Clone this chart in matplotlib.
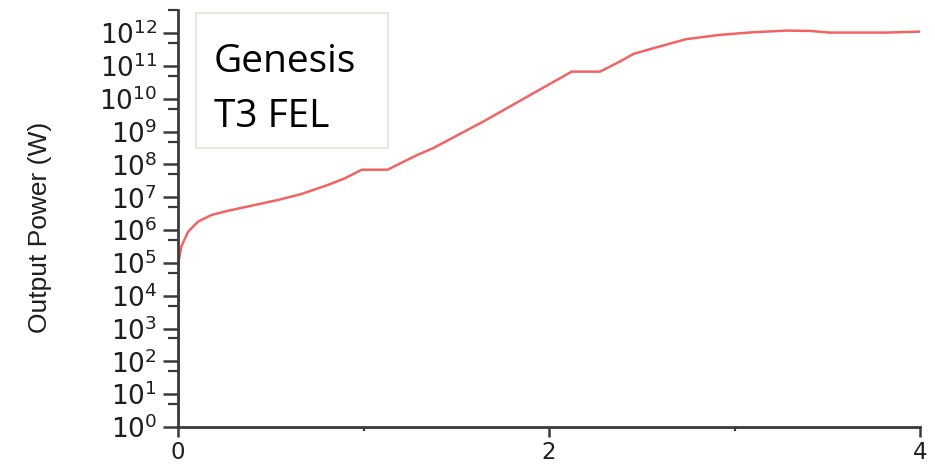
import matplotlib
matplotlib.use("Agg")
import matplotlib.pyplot as plt
from matplotlib.patches import Rectangle
from matplotlib.ticker import FixedLocator, NullFormatter

# ----------------------------------------------------------------------
# Data (distance vs. output power, log scale)
# ----------------------------------------------------------------------
z_m = [0.0, 0.002, 0.018, 0.054, 0.108, 0.18, 0.27, 0.36, 0.54, 0.665,
       0.81, 0.90, 0.99, 1.13, 1.20, 1.29, 1.376, 1.646, 1.915, 2.122,
       2.275, 2.383, 2.455, 2.56, 2.74, 2.92, 3.10, 3.28, 3.41, 3.51,
       3.82, 4.0]
log_power = [0.0, 5.0, 5.50, 5.95, 6.26, 6.46, 6.59, 6.70, 6.92, 7.10,
             7.38, 7.58, 7.84, 7.84, 8.04, 8.29, 8.50, 9.31, 10.17, 10.83,
             10.83, 11.14, 11.37, 11.54, 11.82, 11.95, 12.03, 12.08, 12.07,
             12.02, 12.02, 12.05]
power_w = [10 ** v for v in log_power]

decades = list(range(0, 13))
ytick_labels = [r"$10^{%d}$" % d for d in decades]
x_major = [0, 2, 4]
x_minor = [1, 3]
box_lines = ["Genesis", "T3 FEL"]

AXIS_COLOR = "#3a3a3a"
LINE_COLOR = "#f04848"

plt.rcParams["font.family"] = ["DejaVu Sans"]
plt.rcParams["mathtext.fontset"] = "dejavusans"

fig = plt.figure(figsize=(9.35, 4.68), dpi=100)
ax = fig.add_axes([0.1904, 0.0876, 0.7936, 0.8904])

ax.plot(z_m, power_w, color=LINE_COLOR, lw=1.8, alpha=0.85)
# the near-vertical start is drawn darker in the reference
ax.plot(z_m[:2], power_w[:2], color="#c81010", lw=1.6)

ax.set_yscale("log")
ax.set_xlim(0, 4)
ax.set_ylim(1, 5e12)

ax.yaxis.set_major_locator(FixedLocator([10.0 ** d for d in decades]))
ax.set_yticklabels(ytick_labels)
ax.yaxis.set_minor_locator(FixedLocator([5 * 10.0 ** d for d in decades]))
ax.yaxis.set_minor_formatter(NullFormatter())

ax.xaxis.set_major_locator(FixedLocator(x_major))
ax.xaxis.set_minor_locator(FixedLocator(x_minor))
ax.set_xticklabels([str(v) for v in x_major])

for side in ("top", "right"):
    ax.spines[side].set_visible(False)
for side in ("left", "bottom"):
    ax.spines[side].set_color(AXIS_COLOR)
    ax.spines[side].set_linewidth(2.0)

ax.tick_params(axis="y", which="major", direction="out", length=11,
               width=1.8, color=AXIS_COLOR, labelsize=19, pad=4,
               labelcolor="#1e1e1e")
ax.tick_params(axis="y", which="minor", direction="out", length=7,
               width=1.6, color=AXIS_COLOR)
ax.tick_params(axis="x", which="major", direction="out", length=7,
               width=1.8, color=AXIS_COLOR, labelsize=16.5, pad=3,
               labelcolor="#1e1e1e")
ax.tick_params(axis="x", which="minor", direction="out", length=3,
               width=1.6, color=AXIS_COLOR)

fig.text(40 / 935, 1 - 227 / 468, "Output Power (W)", rotation=90,
         ha="center", va="center", fontsize=19, color="#1e1e1e",
         family=["Liberation Sans", "DejaVu Sans"])

# label box in the upper-left corner
fig.add_artist(Rectangle((196 / 935, 1 - 148 / 468), 192 / 935, 135 / 468,
                         transform=fig.transFigure, facecolor="white",
                         edgecolor="#e4e4d6", linewidth=1.2, zorder=5))
for line, base_px in zip(box_lines, [72, 127]):
    fig.text(214 / 935, 1 - base_px / 468, line, ha="left", va="baseline",
             fontsize=28, color="black", zorder=6,
             family=["Open Sans", "Lato", "DejaVu Sans"])

fig.savefig("out.png", dpi=100, facecolor="white")
